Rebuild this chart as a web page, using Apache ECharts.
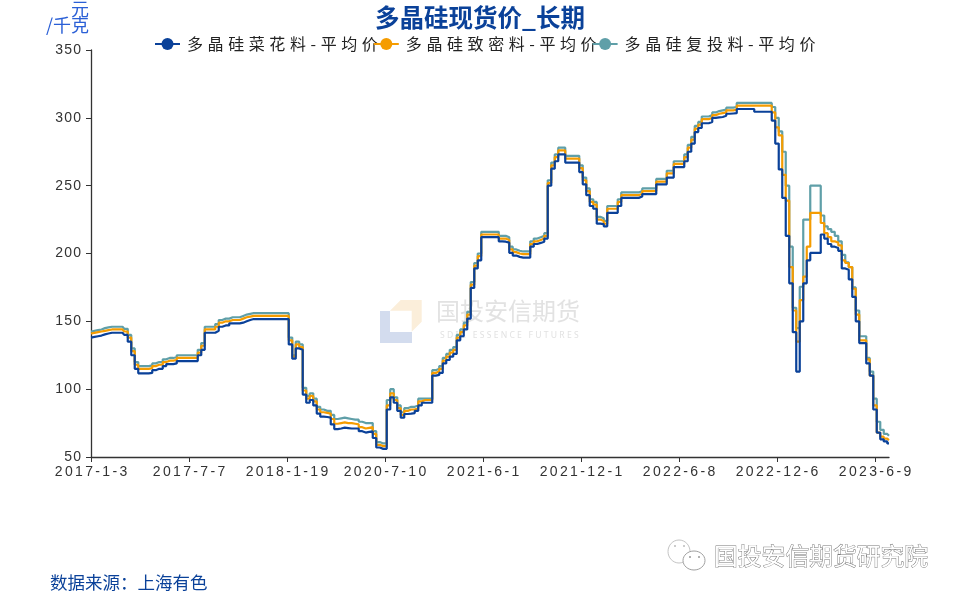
<!DOCTYPE html>
<html>
<head>
<meta charset="utf-8">
<style>html,body{margin:0;padding:0;background:#fff}#c{width:960px;height:600px}</style>
<script src="https://cdn.jsdelivr.net/npm/echarts@6/dist/echarts.min.js"></script>
</head>
<body>
<div id="c"></div>
<script>
const titleText = '多晶硅现货价_长期';
const unitText = '元\n/千克';
const sourceText = '数据来源：上海有色';
const tickLabels = ['2017-1-3','2017-7-7','2018-1-19','2020-7-10','2021-6-1','2021-12-1','2022-6-8','2022-12-6','2023-6-9'];
const seriesNames = ['多晶硅菜花料-平均价','多晶硅致密料-平均价','多晶硅复投料-平均价'];
const seriesColors = ['#0a4199','#f59c00','#5f9fa8'];

const cauliflower = [
138,138.5,139,139.5,140.4,141,141.6,141.6,141.6,141.6,140,135,125,115,111.7,111.7,111.7,112,114,115,
115,117,118.5,118.5,119,120.7,120.7,120.7,120.7,120.7,120.7,125,129,141.6,141.6,141.6,143,146,147,147,
148.5,148.5,148.5,149,150,151,151.7,151.7,151.7,151.7,151.7,151.7,151.7,151.7,151.7,151.7,151.7,133,122.5,130,
129,96,90,92,88,82,79.7,79.5,79,74,70.6,71,71.6,71.3,71,71,71,69,68,68.5,
69,64,57,56,56,85,94,90,84,79,81.7,82,82.4,84,88,90,90,90,110,110.5,
112,119,121.5,124,126,136,139,144,152,174.6,189,195,212,212,212,212,212,209,208.7,208,
200.5,198.5,197.5,197,197,197,205,207,207.8,208.7,211,250,262.5,268,273,273,267,267,267,267,
260,251,243,235,233,222,221.7,220,230,230,230,235,241,241,241,241,241,242,243.8,243.8,
243.8,243.8,251,251,251,256,256,263.7,263.7,263.7,268,275,281,289.5,292.5,296,296,297,300,300.3,
300.6,301.5,303,303.2,303.4,306.5,306.5,306.5,306.5,306.5,304.5,304.5,304.5,304.5,304.5,298,281,262,241,213,
178,142,113,150,178,195,200.4,200.4,200.4,214,211,207,205,204,202,189,188,181,168,150,
134,134,119,110,85,68,63,61.5,60];

const dense = [
141,141.5,142,142.5,143,143.5,144,144,144,144,142.5,138,128,118,115,115,115,115.5,117,118,
118,120,121,121,121.5,123,123,123,123,123,123,127,132,144,144,144,146,149,150,150,
151,151,151,152,153,153.5,154,154,154,154,154,154,154,154,154,154,154,136,124,133,
131,99,93,95,91,85,83,82.5,82,78,74.5,75,75.5,75,75,74.5,74,72,71,71.5,
72,67,59,58,58,88,97,92,86,81,84,85,85,86,91,92,92,92,112,113,
115,121,124,127,129,138,142,147,155,177,191,198,214,214,214,214,214,211,211,210,
203,201,200,199.5,199.5,199.5,207,209,210,211,213,252,265,271,276,276,270,270,270,270,
263,254,246,238,236,225,224,222,233,233,233,238,243,243,243,243,243,244,246,246,
246,246,253,253,253,259,259,266,266,266,271,278,284,292,295,299,299,300,302,303,
303.5,304,305.5,305.5,306,309,309,309,309,309,309,309,309,309,309,304,293,287,258,239,
190,158,135,165.7,183,205,230,230,230,222.5,215,212,209,208,206,195,193,190,174,155,
136,136,122,110,88,68,65,63.5,62.5];

const recharge = [
142.5,143,143.5,144,145,145.5,146,146,146,146,144.5,140,130,120,117,117,117,117.5,119,120,
120,122,123,123,123.5,125,125,125,125,125,125,129,134,146,146,146,148,151,152,152,
153,153,153,154,155,155.5,156,156,156,156,156,156,156,156,156,156,156,138,125,135,
133,101,95,97,93,87,85,84,84,81,78,78.5,79,78.5,78,77.5,77.5,76,75,75,
75,69,61,60,60,92,100,94,88,83,86,87,87,88,93,93,93,93,114,115,
117,123,126,129,131,140,144,149,157,179,193,200,216,216,216,216,216,213,213,212,
205,203,202,201.5,201.5,201.5,209,211,212,213,215,254,267,273,278,278,272,272,272,272,
265,256,248,240,238,227,226,224,235,235,235,240,245,245,245,245,245,246,248,248,
248,248,255,255,255,261,261,268,268,268,273,280,286,294,297,301,301,302,304,305,
305.5,306,307.5,307.5,308,311,311,311,311,311,311,311,311,311,311,308,300,290,275,250,
205,160,145,175.5,225,225,250,250,250,228,220,218,216,213,209,199,193.5,190,175,158,
139,139,123,113,93,76,70,67,65.7];

const perTick = 28;
const categories = cauliflower.map((_, i) => i % perTick === 0 ? tickLabels[i / perTick] : String(i));
const onTick = (i) => i % perTick === 0;
const axisFont = '"Liberation Sans",Arial,sans-serif';
const cjk = '"Noto Sans CJK SC",sans-serif';

const chart = echarts.init(document.getElementById('c'), null, {renderer: 'canvas'});
const values = [cauliflower, dense, recharge];
const series = seriesNames.map((name, k) => ({
  name, type: 'line', data: values[k], step: 'middle', showSymbol: false, symbol: 'circle', symbolSize: 12,
  lineStyle: {color: seriesColors[k], width: 2.2}, itemStyle: {color: seriesColors[k]},
  z: 5 - k, animation: false
}));

chart.setOption({
  animation: false,
  backgroundColor: '#fff',
  title: {text: titleText, left: 370, top: 0, textStyle: {color: '#0a4199', fontSize: 24.5, fontWeight: 'bold', fontFamily: cjk}},
  legend: {
    left: 149, top: 31, itemWidth: 25, itemHeight: 15, itemGap: -5,
    formatter: (n) => n.split('').join(' \u200a'),
    textStyle: {fontFamily: cjk, fontSize: 16, color: '#222', padding: [0,0,0,2]},
    data: seriesNames
  },
  grid: {left: 91, top: 50, width: 798, height: 407, containLabel: false},
  xAxis: {
    type: 'category', data: categories, boundaryGap: false,
    axisLine: {lineStyle: {color: '#333', width: 1.3}},
    axisTick: {alignWithLabel: true, interval: onTick, length: 5, lineStyle: {color: '#333'}},
    axisLabel: {interval: onTick, hideOverlap: false,
      formatter: (s) => String(s).split('').join('\u200a\u200a'), color: '#333', fontFamily: axisFont, fontSize: 14, margin: 8},
    splitLine: {show: false}
  },
  yAxis: {
    type: 'value', min: 50, max: 350, interval: 50,
    name: unitText, nameLocation: 'end', nameGap: 17,
    nameTextStyle: {color: '#2a5fd6', fontFamily: cjk, fontSize: 18, lineHeight: 16, align: 'right', padding: [0, 2, 0, 0]},
    axisLine: {show: true, lineStyle: {color: '#333', width: 1.3}},
    axisTick: {show: true, length: 5, lineStyle: {color: '#333'}},
    axisLabel: {color: '#333', fontFamily: axisFont, fontSize: 14, margin: 10, formatter: (s) => String(s).split('').join('\u200a')},
    splitLine: {show: false}
  },
  series,
  graphic: [
    {type: 'polygon', silent: true, z: 0, shape: {points: [[380,311],[390,311],[390,332],[412,332],[412,343],[380,343]]}, style: {fill: '#d3dcee'}},
    {type: 'polygon', silent: true, z: 0, shape: {points: [[390,310.7],[400.7,300],[421.7,300],[421.7,321.7],[411.7,331.7],[411.7,310.7]]}, style: {fill: '#fbeeda'}},
    {type: 'text', silent: true, z: 0, x: 436, y: 299, style: {text: '国投安信期货', font: '24px "Noto Sans CJK SC"', fill: '#e2e2e2'}},
    {type: 'text', silent: true, z: 0, x: 440, y: 331, style: {text: 'S D I C   E S S E N C E   F U T U R E S', font: '8.6px "Noto Sans"', fill: '#e2e2e2'}},
    {type: 'text', silent: true, x: 50, y: 574, style: {text: sourceText, font: '17.5px "Noto Sans CJK SC"', fill: '#0a4199'}},
    {type: 'ellipse', silent: true, shape: {cx: 679, cy: 551.5, rx: 11, ry: 11.5}, style: {fill: '#fff', stroke: '#c4c4c4', lineWidth: 1}},
    {type: 'ellipse', silent: true, shape: {cx: 694, cy: 560.5, rx: 11, ry: 9.5}, style: {fill: '#fff', stroke: '#a0a0a0', lineWidth: 1}},
    {type: 'circle', silent: true, shape: {cx: 690, cy: 557, r: 1}, style: {fill: '#999'}},
    {type: 'circle', silent: true, shape: {cx: 699, cy: 557, r: 1}, style: {fill: '#999'}},
    {type: 'circle', silent: true, shape: {cx: 675, cy: 546, r: 1}, style: {fill: '#bbb'}},
    {type: 'circle', silent: true, shape: {cx: 684, cy: 546, r: 1}, style: {fill: '#bbb'}},
    {type: 'text', silent: true, x: 714, y: 544, style: {text: '国投安信期货研究院', font: '23.8px "Noto Sans CJK SC"', fill: '#fff', stroke: '#777', lineWidth: 0.9}}
  ]
});
</script>
</body>
</html>
